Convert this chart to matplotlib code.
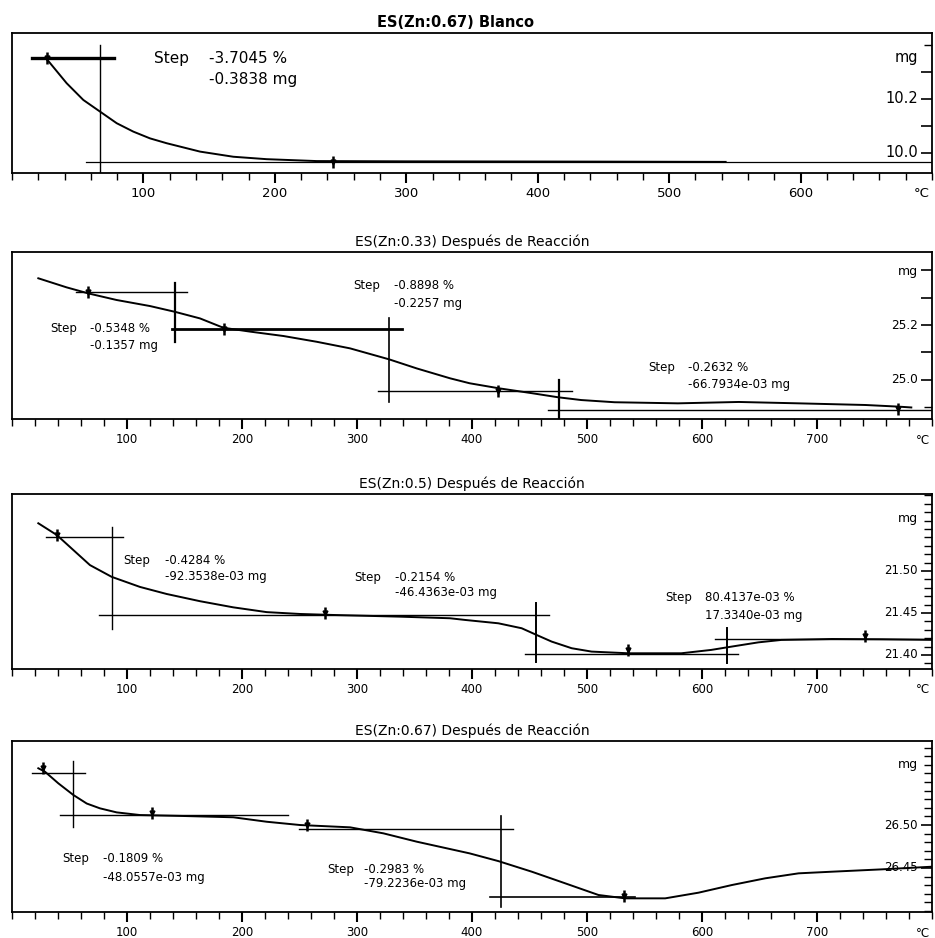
import matplotlib.pyplot as plt
from matplotlib.ticker import MultipleLocator

plt.rcParams['font.family'] = ['DejaVu Sans']

# ES(Zn:0.67) Blanco
t_blanco = [26, 41.6, 54.3, 67.0, 79.7, 92.3, 105, 117.7, 143.1, 168.4, 193.8, 231.9, 300, 446, 543]
m_blanco = [10.350, 10.258, 10.196, 10.153, 10.110, 10.079, 10.054, 10.036, 10.005,
            9.986, 9.977, 9.970, 9.969, 9.968, 9.967]
hl_blanco = [(10.352, 15, 78), (9.968, 56, 700)]
vl_blanco = [(67, 10.40, 9.90)]
mk_blanco = [(27, 10.352), (244, 9.968)]
st_blanco = [("Step", "-3.7045 %", "-0.3838 mg")]

# ES(Zn:0.33) Despues de Reaccion
t_033 = [22.9, 47.5, 66.4, 91, 120, 141.7, 163.5, 183.8, 207, 236, 265, 294, 328, 352, 381, 398,
         423, 452, 475, 495, 524, 579, 632, 684, 742, 771, 782]
m_033 = [25.370, 25.337, 25.315, 25.291, 25.269, 25.248, 25.224, 25.190, 25.176, 25.160, 25.139,
         25.115, 25.075, 25.042, 25.006, 24.988, 24.970, 24.952, 24.937, 24.927, 24.919, 24.915,
         24.920, 24.915, 24.909, 24.903, 24.900]
hl_033 = [(25.320, 56, 152), (25.184, 139, 339), (24.959, 318, 487), (24.892, 466, 800)]
vl_033 = [(141.7, 25.353, 25.138), (328, 25.225, 24.920), (475.7, 25.0, 24.862)]
mk_033 = [(66, 25.320), (184, 25.184), (423, 24.959), (770, 24.895)]
st_033 = [("Step", "-0.5348 %", "-0.1357 mg"),
          ("Step", "-0.8898 %", "-0.2257 mg"),
          ("Step", "-0.2632 %", "-66.7934e-03 mg")]

# ES(Zn:0.5) Despues de Reaccion
t_05 = [22.9, 38.9, 53.3, 67.8, 86.7, 111.3, 134.5, 163.5, 192.4, 221.5, 250.4, 279.4, 337.4,
        380.9, 393.9, 422.9, 443.2, 456.2, 469.3, 486.7, 504, 536, 582, 608, 626, 649, 669, 713,
        756, 800]
m_05 = [21.5568, 21.5429, 21.525, 21.507, 21.493, 21.481, 21.4726, 21.464, 21.4567, 21.451,
        21.4488, 21.4476, 21.4456, 21.4437, 21.4417, 21.4377, 21.4318, 21.4238, 21.4159, 21.408,
        21.404, 21.402, 21.402, 21.406, 21.410, 21.415, 21.4179, 21.419, 21.4187, 21.418]
hl_05 = [(21.5405, 30, 96.5), (21.4481, 75.7, 467), (21.4017, 446, 631), (21.4190, 611, 800)]
vl_05 = [(87, 21.552, 21.431), (455.7, 21.462, 21.3917), (621.7, 21.432, 21.3905)]
mk_05 = [(39, 21.543), (272, 21.450), (536, 21.406), (742, 21.422)]
st_05 = [("Step", "-0.4284 %", "-92.3538e-03 mg"),
         ("Step", "-0.2154 %", "-46.4363e-03 mg"),
         ("Step", "80.4137e-03 %", "17.3340e-03 mg")]

# ES(Zn:0.67) Despues de Reaccion
t_067 = [22.9, 28.7, 40.3, 53.3, 65, 76.5, 91, 111.3, 149, 192.4, 221.5, 250.4, 294, 323, 352,
         398, 423, 452, 481, 510, 533, 568, 597, 626, 655, 684, 713, 756, 800]
m_067 = [26.566, 26.562, 26.5485, 26.535, 26.525, 26.5194, 26.5147, 26.5116, 26.5105, 26.509,
         26.5038, 26.500, 26.4973, 26.4903, 26.4806, 26.467, 26.458, 26.4457, 26.4322, 26.4186,
         26.4147, 26.4147, 26.4213, 26.4302, 26.438, 26.4438, 26.4457, 26.4484, 26.4515]
hl_067 = [(26.560, 17.4, 63.5), (26.512, 41.7, 240), (26.495, 250, 435.7), (26.4158, 415.6, 541.7)]
vl_067 = [(53, 26.574, 26.4977), (425, 26.5105, 26.4047)]
mk_067 = [(27, 26.566), (122, 26.514), (256.5, 26.500), (532, 26.418)]
st_067 = [("Step", "-0.1809 %", "-48.0557e-03 mg"),
          ("Step", "-0.2983 %", "-79.2236e-03 mg")]

# where each step label sits: (T of "Step", T of values, mass of line 1, mass of line 2)
pos_blanco = [(108, 150, 10.348, 10.27)]
pos_033 = [(33, 68, 25.189, 25.124), (297, 332, 25.345, 25.28), (553, 588, 25.044, 24.982)]
pos_05 = [(96.5, 133, 21.513, 21.493), (298, 333, 21.4917, 21.4738), (568, 602.6, 21.4679, 21.4464)]
pos_067 = [(44, 79, 26.4605, 26.4395), (274, 306, 26.4488, 26.4314)]

# line widths of the construction lines
hw_blanco, vw_blanco = [2.4, 0.9], [1.0]
hw_033, vw_033 = [1.0, 2.0, 1.0, 1.0], [1.6, 1.2, 1.6]
hw_05, vw_05 = [1.0, 1.0, 1.0, 1.0], [1.0, 1.4, 1.4]
hw_067, vw_067 = [1.0, 1.0, 1.0, 1.2], [1.0, 1.2]

fig = plt.figure(figsize=(9.35, 9.38), dpi=100)


def panel(rect, title, bold, tx, xmax, ylim, t, m, hl, vl, mk, st, pos, hw, vw,
          yt, ylab, ystep, mg_y, fs):
    # fs: (title, x ticks, y ticks, mg, notes)
    ax = fig.add_axes(rect)
    ax.plot(t, m, color='black', lw=1.4)
    for (y, x0, x1), w in zip(hl, hw):
        ax.plot([x0, x1], [y, y], color='black', lw=w)
    for (x, y0, y1), w in zip(vl, vw):
        ax.plot([x, x], [y0, y1], color='black', lw=w)
    for x, y in mk:
        ax.plot(x, y, marker='|', ms=8, mew=1.8, color='black')
        ax.plot(x, y, marker='v', ms=3.5, color='black')
    for (s, v1, v2), (xs, xv, y1, y2) in zip(st, pos):
        ax.text(xs, y1, s, fontsize=fs[4], va='center')
        ax.text(xv, y1, v1, fontsize=fs[4], va='center')
        ax.text(xv, y2, v2, fontsize=fs[4], va='center')
    ax.set_xlim(0, xmax)
    ax.set_ylim(*ylim)
    ax.set_xticks(range(100, xmax, 100))
    ax.xaxis.set_minor_locator(MultipleLocator(20))
    ax.tick_params(axis='x', which='major', direction='out', length=7, width=1.5,
                   labelsize=fs[1], pad=3)
    ax.tick_params(axis='x', which='minor', direction='out', length=5, width=1.0)
    ax.yaxis.tick_right()
    ax.set_yticks(yt)
    ax.yaxis.set_minor_locator(MultipleLocator(ystep))
    ax.tick_params(axis='y', which='major', direction='in', length=8, width=1.2,
                   labelright=False)
    ax.tick_params(axis='y', which='minor', direction='in', length=6, width=1.0)
    for v, lab in zip(yt, ylab):
        if lab:
            ax.annotate(lab, xy=(1, v), xycoords=ax.get_yaxis_transform(), xytext=(-14, 0),
                        textcoords='offset pixels', ha='right', va='center', fontsize=fs[2])
    ax.annotate('mg', xy=(1, mg_y), xycoords=ax.get_yaxis_transform(), xytext=(-14, 0),
                textcoords='offset pixels', ha='right', va='center', fontsize=fs[3])
    ax.annotate('°C', xy=(1, 0), xycoords='axes fraction', xytext=(-2, -21),
                textcoords='offset pixels', ha='right', va='center', fontsize=fs[1])
    for sp in ax.spines.values():
        sp.set_linewidth(1.3)
    ax.set_title(title, fontsize=fs[0], fontweight=bold, pad=4, x=tx)
    return ax


panel([0.0128, 0.8156, 0.984, 0.1493], 'ES(Zn:0.67) Blanco', 'bold', 0.482, 700, (9.926, 10.444),
      t_blanco, m_blanco, hl_blanco, vl_blanco, mk_blanco, st_blanco, pos_blanco,
      hw_blanco, vw_blanco, [10.0, 10.1, 10.2, 10.3], ['10.0', '', '10.2', ''], 0.1, 10.352,
      (10.5, 9.5, 10.5, 10.5, 11))
panel([0.0128, 0.5533, 0.984, 0.178], 'ES(Zn:0.33) Después de Reacción', 'normal', 0.5, 800,
      (24.858, 25.4655), t_033, m_033, hl_033, vl_033, mk_033, st_033, pos_033,
      hw_033, vw_033, [25.0, 25.1, 25.2, 25.3, 25.4], ['25.0', '', '25.2', '', ''], 0.1, 25.393,
      (10, 8.5, 8.7, 9, 8.5))
panel([0.0128, 0.2868, 0.984, 0.1866], 'ES(Zn:0.5) Después de Reacción', 'normal', 0.5, 800,
      (21.3833, 21.5917), t_05, m_05, hl_05, vl_05, mk_05, st_05, pos_05,
      hw_05, vw_05, [21.40, 21.45, 21.50], ['21.40', '21.45', '21.50'], 0.01, 21.562,
      (10, 8.5, 8.5, 9, 8.5))
panel([0.0128, 0.0277, 0.984, 0.1823], 'ES(Zn:0.67) Después de Reacción', 'normal', 0.5, 800,
      (26.3988, 26.5977), t_067, m_067, hl_067, vl_067, mk_067, st_067, pos_067,
      hw_067, vw_067, [26.45, 26.50], ['26.45', '26.50'], 0.01, 26.570,
      (10, 8.5, 8.5, 9, 8.5))

fig.savefig('out.png', dpi=100)
